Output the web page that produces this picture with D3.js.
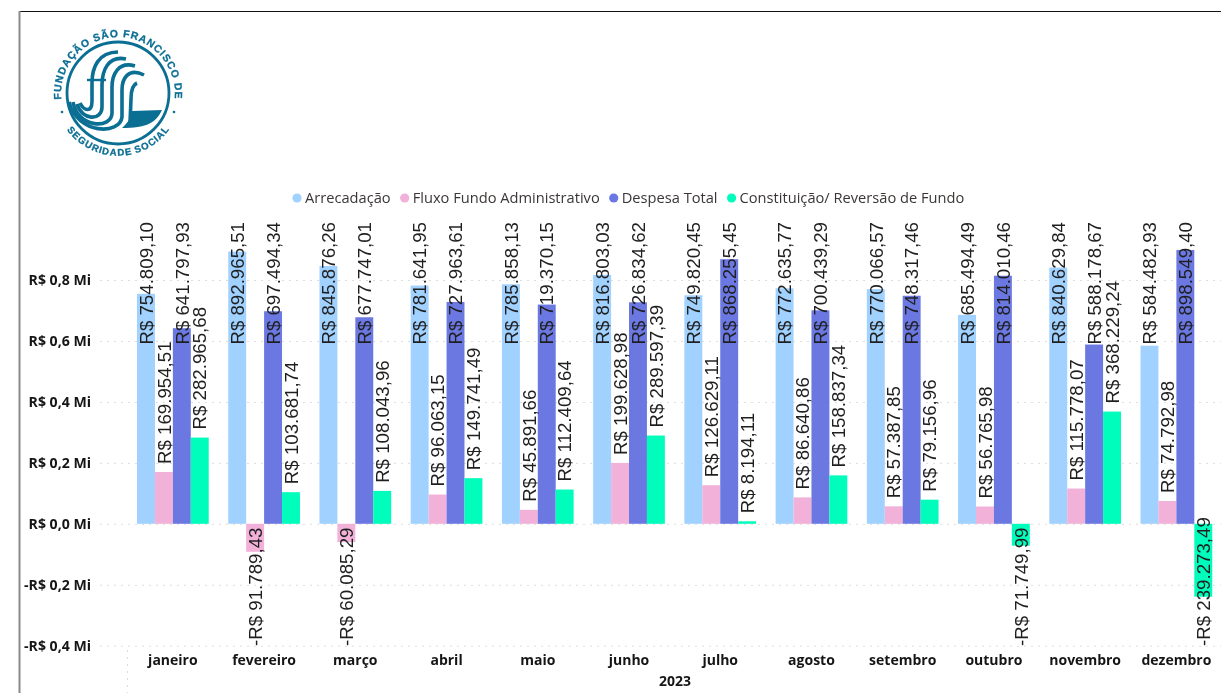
<!DOCTYPE html>
<html>
<head>
<meta charset="utf-8">
<script src="https://cdn.jsdelivr.net/npm/d3@7"></script>
<style>
html, body { margin: 0; background: #fff; }
svg { display: block; filter: blur(0.4px); }
</style>
</head>
<body>
<script>
//chart data
var months = ['janeiro', 'fevereiro', 'março', 'abril', 'maio', 'junho', 'julho', 'agosto', 'setembro', 'outubro', 'novembro', 'dezembro'];
var seriesNames = ['Arrecadação', 'Fluxo Fundo Administrativo', 'Despesa Total', 'Constituição/ Reversão de Fundo'];
var seriesColors = ['#A0D1FF', '#F2B1D9', '#6B78E2', '#00FDBB'];
var arrecadacao = [754809.10, 892965.51, 845876.26, 781641.95, 785858.13, 816803.03, 749820.45, 772635.77, 770066.57, 685494.49, 840629.84, 584482.93];
var fluxoFundo = [169954.51, -91789.43, -60085.29, 96063.15, 45891.66, 199628.98, 126629.11, 86640.86, 57387.85, 56765.98, 115778.07, 74792.98];
var despesaTotal = [641797.93, 697494.34, 677747.01, 727963.61, 719370.15, 726834.62, 868255.45, 700439.29, 748317.46, 814010.46, 588178.67, 898549.40];
var constituicao = [282965.68, 103681.74, 108043.96, 149741.49, 112409.64, 289597.39, 8194.11, 158837.34, 79156.96, -71749.99, 368229.24, -239273.49];
var yTicks = [-400000, -200000, 0, 200000, 400000, 600000, 800000];
var yearLabel = '2023';

var width = 1221,
    height = 693;

var svg = d3.select('body').append('svg')
    .attr('width', width)
    .attr('height', height);

var uiFont = '"Open Sans", sans-serif';
var labelFont = '"Liberation Sans", Arial, sans-serif';

var allSeries = [arrecadacao, fluxoFundo, despesaTotal, constituicao];

//brazilian number format for the data labels
var brl = d3.formatLocale({ decimal: ',', thousands: '.', grouping: [3], currency: ['R$ ', ''], minus: '-' });
var moneyFormat = brl.format('$,.2f');
var axisFormat = function(d) {
	return (d < 0 ? '-' : '') + 'R$ ' + d3.format('.1f')(Math.abs(d) / 1e6).replace('.', ',') + ' Mi';
};

//scales
var x0 = d3.scaleBand().domain(months).range([127.25, 1222]).paddingInner(0.214).paddingOuter(0.107);
var x1 = d3.scaleBand().domain(d3.range(seriesNames.length)).range([0, x0.bandwidth()]);
var y = d3.scaleLinear().domain([-400000, 800000]).range([645.7, 280]);

//frame around the visual
svg.append('line').attr('x1', 19).attr('x2', width).attr('y1', 11.5).attr('y2', 11.5)
	.style('stroke', '#111').style('stroke-width', 1);
svg.append('line').attr('x1', 19.5).attr('x2', 19.5).attr('y1', 11).attr('y2', height)
	.style('stroke', '#8a8a8a').style('stroke-width', 2);

//y axis with dotted gridlines
var yAxis = svg.append('g')
	.attr('transform', 'translate(100,0)')
	.call(d3.axisLeft(y).tickValues(yTicks).tickFormat(axisFormat).tickSize(-(width - 100)).tickPadding(9));
yAxis.select('.domain').remove();
yAxis.selectAll('line').style('stroke', '#dcdcdc').style('stroke-dasharray', '2,5');
yAxis.selectAll('text')
	.style('font-family', uiFont).style('font-size', '14.1px').style('font-weight', 700).style('fill', '#151515');

//x axis
var xAxis = svg.append('g')
	.attr('transform', 'translate(0,647)')
	.call(d3.axisBottom(x0).tickSize(0).tickPadding(8));
xAxis.select('.domain').remove();
xAxis.selectAll('text')
	.style('font-family', uiFont).style('font-size', '14px').style('font-weight', 700).style('fill', '#151515');

svg.append('text')
	.attr('x', 675).attr('y', 686)
	.attr('text-anchor', 'middle')
	.style('font-family', uiFont).style('font-size', '14px').style('font-weight', 700).style('fill', '#151515')
	.text(yearLabel);

svg.append('line').attr('x1', 127.5).attr('x2', 127.5).attr('y1', 650).attr('y2', height)
	.style('stroke', '#dcdcdc').style('stroke-dasharray', '2,5');

//one group per month
var groups = svg.selectAll('.month')
	.data(months)
	.enter().append('g')
	.attr('class', 'month')
	.attr('transform', function(d) { return 'translate(' + x0(d) + ',0)'; });

var cells = function(d, i) {
	return allSeries.map(function(s, k) { return { key: k, value: s[i] }; });
};

groups.selectAll('rect')
	.data(cells)
	.enter().append('rect')
	.attr('x', function(d) { return x1(d.key); })
	.attr('width', x1.bandwidth())
	.attr('y', function(d) { return y(Math.max(d.value, 0)); })
	.attr('height', function(d) { return Math.abs(y(d.value) - y(0)); })
	.style('fill', function(d) { return seriesColors[d.key]; });

//data labels sit above the bar, and get pushed back when they would leave the plot
var labelTop = 222,
    labelBottom = 646,
    labelGap = 8;

groups.selectAll('text')
	.data(cells)
	.enter().append('text')
	.text(function(d) { return moneyFormat(d.value); })
	.style('font-family', labelFont).style('font-size', '18.7px').style('fill', '#1f1f1f')
	.attr('dy', '0.36em')
	.attr('transform', function(d) {
		var len = this.getComputedTextLength();
		var start = d.value < 0 ? labelBottom : Math.max(y(d.value) - labelGap, labelTop + len);
		return 'translate(' + (x1(d.key) + x1.bandwidth() / 2) + ',' + start + ') rotate(-90)';
	});

//legend
var legend = svg.append('g').attr('transform', 'translate(0,198)');
var legendX = 297;
seriesNames.forEach(function(name, i) {
	legend.append('circle').attr('cx', legendX).attr('r', 4.6).style('fill', seriesColors[i]);
	var t = legend.append('text')
		.attr('x', legendX + 8).attr('dy', '0.35em')
		.style('font-family', uiFont).style('font-size', '14.65px').style('fill', '#3a3635')
		.text(name);
	legendX += 8 + t.node().getComputedTextLength() + 14;
});

//logo of the foundation
var logoColor = '#0B6E93';
var logo = svg.append('g').attr('transform', 'translate(118,93)');
logo.append('circle').attr('r', 51).style('fill', 'none').style('stroke', logoColor).style('stroke-width', 2.8);

var defs = svg.append('defs');
defs.append('path').attr('id', 'logoTop').attr('d', 'M-55.5,14 A57,57 0 1 1 55.5,14');
defs.append('path').attr('id', 'logoBottom').attr('d', 'M-50,25 A56,56 0 0 0 50,25');

logo.append('text').style('font-family', labelFont).style('font-size', '10.4px').style('font-weight', 700)
	.style('letter-spacing', '0.9px').style('fill', logoColor).style('stroke', logoColor).style('stroke-width', 0.3)
	.append('textPath').attr('href', '#logoTop').attr('startOffset', '50%').attr('text-anchor', 'middle')
	.text('FUNDAÇÃO SÃO FRANCISCO DE');
logo.append('text').attr('dy', '7').style('font-family', labelFont).style('font-size', '9.6px').style('font-weight', 700)
	.style('letter-spacing', '0.2px').style('fill', logoColor).style('stroke', logoColor).style('stroke-width', 0.3)
	.append('textPath').attr('href', '#logoBottom').attr('startOffset', '50%').attr('text-anchor', 'middle')
	.text('SEGURIDADE SOCIAL');
logo.selectAll('.dot').data([-1, 1]).enter().append('circle')
	.attr('cx', function(d) { return d * 56; }).attr('cy', 19).attr('r', 1.3).style('fill', logoColor);

//stripes of the emblem, drawn in the emblem's own units
var stripes = [
	'M0,-41 C-20,-41 -26,-25 -26,-10 L-26,8 C-26,20 -34,18 -38,10',
	'M8,-34 C-10,-38 -16,-22 -16,-8 L-16,14 C-16,28 -36,28 -41,11',
	'M17,-27 C0,-32 -6,-18 -6,-6 L-6,20 C-6,36 -40,36 -45,9',
	'M26,-18 C10,-26 4,-14 4,-3 L4,24 C2,42 -40,42 -49,9',
	'M19,-10 C14,-8 13,-2 13,6 L12,30'
];
logo.selectAll('.stripe').data(stripes).enter().append('path')
	.attr('d', function(d) { return d; })
	.style('fill', 'none').style('stroke', logoColor).style('stroke-width', 3.6);
logo.append('path').attr('d', 'M-31,-13 L-12,-13').style('stroke', logoColor).style('stroke-width', 2.4);
logo.append('path').attr('d', 'M14,18 L44,17 C38,30 28,35 4,35 C10,30 13,24 14,18 Z').style('fill', logoColor);
</script>
</body>
</html>
